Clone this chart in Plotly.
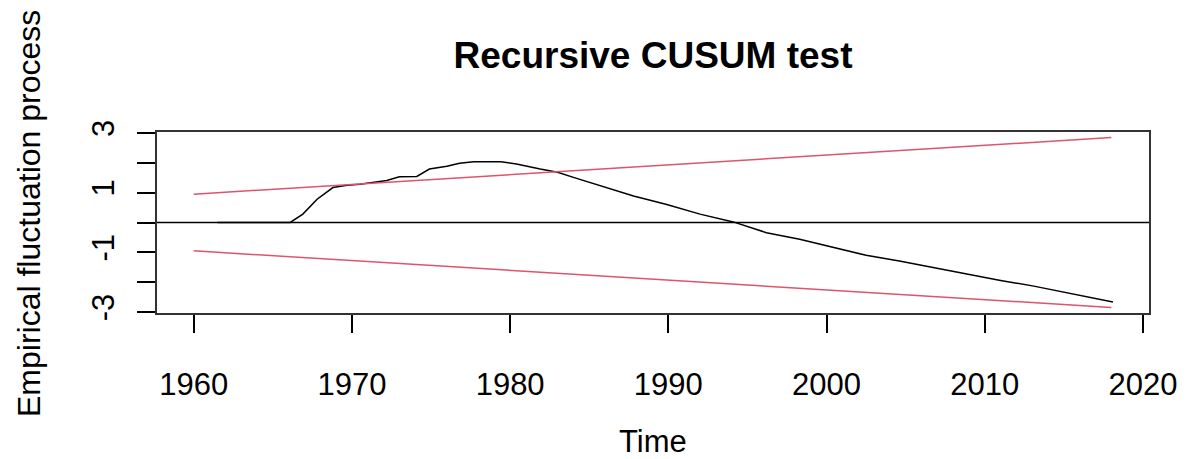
import plotly.graph_objects as go

# Recursive CUSUM process
time = [1961.5, 1966.1, 1966.9, 1967.8, 1968.8, 1969.7, 1970.5, 1971.4, 1972.2,
        1973.0, 1974.1, 1974.9, 1976.0, 1976.8, 1977.7, 1979.4, 1980.4, 1981.9,
        1983.0, 1984.0, 1985.7, 1987.8, 1989.9, 1992.0, 1994.1, 1996.2, 1998.3,
        2000.4, 2002.5, 2004.6, 2006.7, 2008.8, 2011.0, 2013.1, 2015.2, 2017.3, 2018.1]
process = [0.0, 0.0, 0.28, 0.78, 1.17, 1.25, 1.28, 1.36, 1.41,
           1.53, 1.54, 1.79, 1.88, 1.98, 2.03, 2.03, 1.96, 1.79,
           1.68, 1.51, 1.23, 0.89, 0.60, 0.28, 0.02, -0.34, -0.56,
           -0.84, -1.10, -1.29, -1.51, -1.73, -1.94, -2.13, -2.35, -2.57, -2.66]

# Boundaries
bound_time = [1960, 2018]
upper_bound = [0.948, 2.844]
lower_bound = [-0.948, -2.844]

x_ticks = [1960, 1970, 1980, 1990, 2000, 2010, 2020]
y_ticks = [-3, -2, -1, 0, 1, 2, 3]
y_ticktext = ["-3", "", "-1", "", "1", "", "3"]

RED = "#DF536B"
FONT = "Liberation Sans, Arial, sans-serif"

fig = go.Figure()
fig.add_trace(go.Scatter(x=time, y=process, mode="lines",
                         line=dict(color="black", width=1.5), showlegend=False))
fig.add_trace(go.Scatter(x=bound_time, y=upper_bound, mode="lines",
                         line=dict(color=RED, width=1.5), showlegend=False))
fig.add_trace(go.Scatter(x=bound_time, y=lower_bound, mode="lines",
                         line=dict(color=RED, width=1.5), showlegend=False))

fig.add_hline(y=0, line=dict(color="black", width=1.5))

# the page body has an 8px margin, so the figure is placed 8px right/down
fig.update_layout(
    width=1186, height=459,
    margin=dict(l=149, r=45, t=124, b=154),
    paper_bgcolor="white", plot_bgcolor="white",
    font=dict(family=FONT, size=31, color="black"),
    title=dict(text="<b>Recursive CUSUM test</b>", x=(149 + 496) / 1186, xanchor="center",
               y=1 - 47 / 459, yanchor="middle", yref="container",
               font=dict(family=FONT, size=37, color="black")),
    xaxis=dict(range=[1957.68, 2020.38], tickvals=x_ticks, ticks="outside",
               ticklen=18, tickwidth=1.5, tickcolor="black",
               showgrid=False, zeroline=False, showline=True, mirror=True,
               linecolor="#333333", linewidth=1.5, ticklabelstandoff=25,
               tickfont=dict(family=FONT, size=31, color="black")),
    yaxis=dict(range=[-3.03, 3.03], tickvals=y_ticks, ticktext=y_ticktext,
               ticks="outside", ticklen=18, tickwidth=1.5, tickcolor="black",
               tickangle=-90, showgrid=False, zeroline=False, showline=True,
               mirror=True, linecolor="#333333", linewidth=1.5,
               ticklabelstandoff=11,
               tickfont=dict(family=FONT, size=31, color="black")),
    annotations=[
        dict(text="Time", xref="paper", yref="paper", x=0.5, y=(313 - 441) / 181,
             xanchor="center", yanchor="middle", showarrow=False,
             font=dict(family=FONT, size=31, color="black")),
        dict(text="Empirical fluctuation process", xref="paper", yref="paper",
             x=(29 - 157) / 992, y=(313 - 214) / 181, textangle=-90,
             xanchor="center", yanchor="middle", showarrow=False,
             font=dict(family=FONT, size=32, color="black")),
    ],
)

fig.write_html("out.html")
